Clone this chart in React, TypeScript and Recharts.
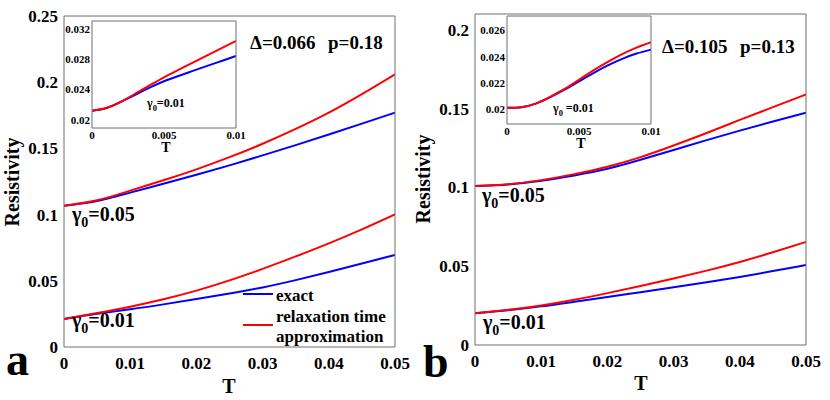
import { LineChart, Line, XAxis, YAxis } from "recharts";

const FONT = '"Liberation Serif", "Times New Roman", serif';
const AXIS = "#6f6f6f";
const BLUE = "#0000ff";
const RED = "#ff0000";

// temperature grids
const T_MAIN = [0, 0.005, 0.01, 0.015, 0.02, 0.025, 0.03, 0.035, 0.04, 0.045, 0.05];
const T_INSET = [0, 0.001, 0.002, 0.003, 0.004, 0.005, 0.006, 0.007, 0.008, 0.009, 0.01];

// panel a (Δ=0.066, p=0.18)
const A_EXACT_05 = [0.1067, 0.1103, 0.1166, 0.1233, 0.1301, 0.1372, 0.1447, 0.1525, 0.1605, 0.1687, 0.177];
const A_RTA_05 = [0.1067, 0.1108, 0.1181, 0.1259, 0.1342, 0.1434, 0.1535, 0.1647, 0.177, 0.191, 0.206];
const A_EXACT_01 = [0.0212, 0.0251, 0.0285, 0.0322, 0.0362, 0.0404, 0.045, 0.0505, 0.0566, 0.063, 0.0695];
const A_RTA_01 = [0.0212, 0.0256, 0.0304, 0.036, 0.0426, 0.0503, 0.059, 0.0684, 0.0783, 0.0889, 0.1002];
const A_INSET_EXACT = [0.0212, 0.02156, 0.02236, 0.0233, 0.02425, 0.0251, 0.0258, 0.02648, 0.02715, 0.0278, 0.02845];
const A_INSET_RTA = [0.0212, 0.02156, 0.02238, 0.02345, 0.02455, 0.02562, 0.0266, 0.02757, 0.02853, 0.0295, 0.03045];

// panel b (Δ=0.105, p=0.13)
const B_EXACT_05 = [0.1009, 0.1019, 0.1042, 0.1076, 0.1118, 0.1175, 0.1237, 0.13, 0.136, 0.1418, 0.1474];
const B_RTA_05 = [0.1009, 0.102, 0.1046, 0.1084, 0.1131, 0.1192, 0.1266, 0.1345, 0.1428, 0.1509, 0.159];
const B_EXACT_01 = [0.0201, 0.0221, 0.0245, 0.0274, 0.0304, 0.0335, 0.0366, 0.0398, 0.0432, 0.0469, 0.0507];
const B_RTA_01 = [0.0201, 0.0223, 0.0251, 0.0287, 0.0329, 0.0374, 0.0422, 0.0472, 0.0527, 0.0588, 0.0654];
const B_INSET_EXACT = [0.02013, 0.02018, 0.02045, 0.02094, 0.02151, 0.02214, 0.02277, 0.02335, 0.02385, 0.02425, 0.02455];
const B_INSET_RTA = [0.02013, 0.02018, 0.02045, 0.02096, 0.02156, 0.02226, 0.02297, 0.02362, 0.02421, 0.0247, 0.02511];

// ticks
const X_TICKS_MAIN = [0, 0.01, 0.02, 0.03, 0.04, 0.05];
const X_TICKS_INSET = [0, 0.005, 0.01];
const Y_TICKS_A = [0, 0.05, 0.1, 0.15, 0.2, 0.25];
const Y_TICKS_B = [0, 0.05, 0.1, 0.15, 0.2];
const Y_TICKS_A_INSET = [0.02, 0.024, 0.028, 0.032];
const Y_TICKS_B_INSET = [0.02, 0.022, 0.024, 0.026];

type Series = { key: string; color: string; values: number[] };

function toRows(t: number[], series: Series[]) {
  return t.map((x, i) => {
    const row: Record<string, number> = { t: x };
    series.forEach((s) => {
      row[s.key] = s.values[i];
    });
    return row;
  });
}

interface BoxChartProps {
  width: number;
  height: number;
  margin: { top: number; right: number; bottom: number; left: number };
  t: number[];
  series: Series[];
  xDomain: [number, number];
  yDomain: [number, number];
  xTicks: number[];
  yTicks: number[];
  fontSize: number;
  xGap: number;
  yGap: number;
  tickLen: number;
  yWidth: number;
  xHeight: number;
}

const fmt = (v: number) => String(v);

function BoxChart(p: BoxChartProps) {
  const data = toRows(p.t, p.series);
  const tickStyle = { fontFamily: FONT, fontWeight: 700, fontSize: p.fontSize, fill: "#000" };
  const edge = { stroke: AXIS, strokeWidth: 1 };
  return (
    <LineChart width={p.width} height={p.height} margin={p.margin} data={data}>
      <XAxis
        xAxisId="x"
        dataKey="t"
        type="number"
        domain={p.xDomain}
        allowDataOverflow
        ticks={p.xTicks}
        interval={0}
        tick={tickStyle}
        tickFormatter={fmt}
        tickLine={false}
        tickSize={0}
        tickMargin={p.xGap}
        axisLine={edge}
        height={p.xHeight}
      />
      <XAxis xAxisId="xb" type="number" domain={p.xDomain} allowDataOverflow ticks={p.xTicks} interval={0} mirror tick={false} tickSize={p.tickLen} tickLine={edge} axisLine={false} />
      <XAxis xAxisId="xt" orientation="top" type="number" domain={p.xDomain} allowDataOverflow ticks={p.xTicks} interval={0} mirror tick={false} tickSize={p.tickLen} tickLine={edge} axisLine={edge} />
      <YAxis
        yAxisId="y"
        type="number"
        domain={p.yDomain}
        allowDataOverflow
        ticks={p.yTicks}
        interval={0}
        tick={tickStyle}
        tickFormatter={fmt}
        tickLine={false}
        tickSize={0}
        tickMargin={p.yGap}
        axisLine={edge}
        width={p.yWidth}
      />
      <YAxis yAxisId="yl" type="number" domain={p.yDomain} allowDataOverflow ticks={p.yTicks} interval={0} mirror tick={false} tickSize={p.tickLen} tickLine={edge} axisLine={false} />
      <YAxis yAxisId="yr" orientation="right" type="number" domain={p.yDomain} allowDataOverflow ticks={p.yTicks} interval={0} mirror tick={false} tickSize={p.tickLen} tickLine={edge} axisLine={edge} />
      {p.series.map((s) => (
        <Line
          key={s.key}
          xAxisId="x"
          yAxisId="y"
          type="natural"
          dataKey={s.key}
          stroke={s.color}
          strokeWidth={2}
          dot={false}
          isAnimationActive={false}
        />
      ))}
    </LineChart>
  );
}

function Gamma({ x, y, size, value, gap }: { x: number; y: number; size: number; value: string; gap?: string }) {
  return (
    <text x={x} y={y} fontSize={size}>
      γ
      <tspan fontSize={size * 0.7} dy={size * 0.3}>0</tspan>
      <tspan dy={-size * 0.3}>{(gap ?? "") + "=" + value}</tspan>
    </text>
  );
}

export default function App() {
  const boxStyle = { position: "absolute" as const, left: 0, top: 0 };
  return (
    <div style={{ position: "absolute", left: 0, top: 0, width: 830, height: 400, background: "#fff", fontFamily: FONT }}>
      <div style={boxStyle}>
        <BoxChart
          width={415}
          height={400}
          margin={{ top: 16, right: 20, bottom: 23, left: 14 }}
          t={T_MAIN}
          series={[
            { key: "e05", color: BLUE, values: A_EXACT_05 },
            { key: "e01", color: BLUE, values: A_EXACT_01 },
            { key: "r05", color: RED, values: A_RTA_05 },
            { key: "r01", color: RED, values: A_RTA_01 },
          ]}
          xDomain={[0, 0.05]}
          yDomain={[0, 0.25]}
          xTicks={X_TICKS_MAIN}
          yTicks={Y_TICKS_A}
          fontSize={17}
          xGap={10}
          yGap={6}
          tickLen={4}
          yWidth={50}
          xHeight={30}
        />
      </div>
      <div style={{ ...boxStyle, left: 415 }}>
        <BoxChart
          width={415}
          height={400}
          margin={{ top: 14, right: 24, bottom: 25, left: 10 }}
          t={T_MAIN}
          series={[
            { key: "e05", color: BLUE, values: B_EXACT_05 },
            { key: "e01", color: BLUE, values: B_EXACT_01 },
            { key: "r05", color: RED, values: B_RTA_05 },
            { key: "r01", color: RED, values: B_RTA_01 },
          ]}
          xDomain={[0, 0.05]}
          yDomain={[0, 0.21]}
          xTicks={X_TICKS_MAIN}
          yTicks={Y_TICKS_B}
          fontSize={17}
          xGap={10}
          yGap={6}
          tickLen={4}
          yWidth={50}
          xHeight={30}
        />
      </div>
      <div style={boxStyle}>
        <BoxChart
          width={260}
          height={160}
          margin={{ top: 21, right: 24, bottom: 12, left: 52 }}
          t={T_INSET}
          series={[
            { key: "e", color: BLUE, values: A_INSET_EXACT },
            { key: "r", color: RED, values: A_INSET_RTA },
          ]}
          xDomain={[0, 0.01]}
          yDomain={[0.0189, 0.0331]}
          xTicks={X_TICKS_INSET}
          yTicks={Y_TICKS_A_INSET}
          fontSize={11}
          xGap={3}
          yGap={2}
          tickLen={3}
          yWidth={40}
          xHeight={20}
        />
      </div>
      <div style={{ ...boxStyle, left: 415 }}>
        <BoxChart
          width={260}
          height={160}
          margin={{ top: 16, right: 24, bottom: 16, left: 52 }}
          t={T_INSET}
          series={[
            { key: "e", color: BLUE, values: B_INSET_EXACT },
            { key: "r", color: RED, values: B_INSET_RTA },
          ]}
          xDomain={[0, 0.01]}
          yDomain={[0.0189, 0.0271]}
          xTicks={X_TICKS_INSET}
          yTicks={Y_TICKS_B_INSET}
          fontSize={11}
          xGap={3}
          yGap={2}
          tickLen={3}
          yWidth={40}
          xHeight={20}
        />
      </div>
      <svg
        width={830}
        height={400}
        style={{ position: "absolute", left: 0, top: 0, pointerEvents: "none", fontFamily: FONT }}
        fontWeight={700}
        fill="#000"
      >
        {/* panel a */}
        <text transform="translate(19,182) rotate(-90)" textAnchor="middle" fontSize={20}>Resistivity</text>
        <text x={229} y={393} textAnchor="middle" fontSize={20}>T</text>
        <text x={6} y={375} fontSize={46}>a</text>
        <text x={250} y={48.5} fontSize={19}>Δ=0.066</text>
        <text x={328} y={48.5} fontSize={19}>p=0.18</text>
        <Gamma x={72} y={221} size={20} value="0.05" />
        <Gamma x={72} y={327} size={20} value="0.01" />
        <Gamma x={147} y={107} size={12} value="0.01" />
        <text x={166} y={151.5} textAnchor="middle" fontSize={14}>T</text>
        <line x1={243} x2={273} y1={294} y2={294} stroke={BLUE} strokeWidth={2} />
        <line x1={243} x2={273} y1={325} y2={325} stroke={RED} strokeWidth={2} />
        <text x={276} y={301} fontSize={17}>exact</text>
        <text x={276} y={322} fontSize={17}>relaxation time</text>
        <text x={276} y={342} fontSize={17}>approximation</text>

        {/* panel b */}
        <text transform="translate(430,179) rotate(-90)" textAnchor="middle" fontSize={20}>Resistivity</text>
        <text x={641} y={390} textAnchor="middle" fontSize={20}>T</text>
        <text x={423} y={377} fontSize={46}>b</text>
        <text x={662} y={52.7} fontSize={19}>Δ=0.105</text>
        <text x={740} y={52.7} fontSize={19}>p=0.13</text>
        <Gamma x={482} y={202} size={20} value="0.05" />
        <Gamma x={483} y={329} size={20} value="0.01" />
        <Gamma x={553} y={112} size={12} value="0.01" gap=" " />
        <text x={581} y={147.5} textAnchor="middle" fontSize={14}>T</text>
      </svg>
    </div>
  );
}
